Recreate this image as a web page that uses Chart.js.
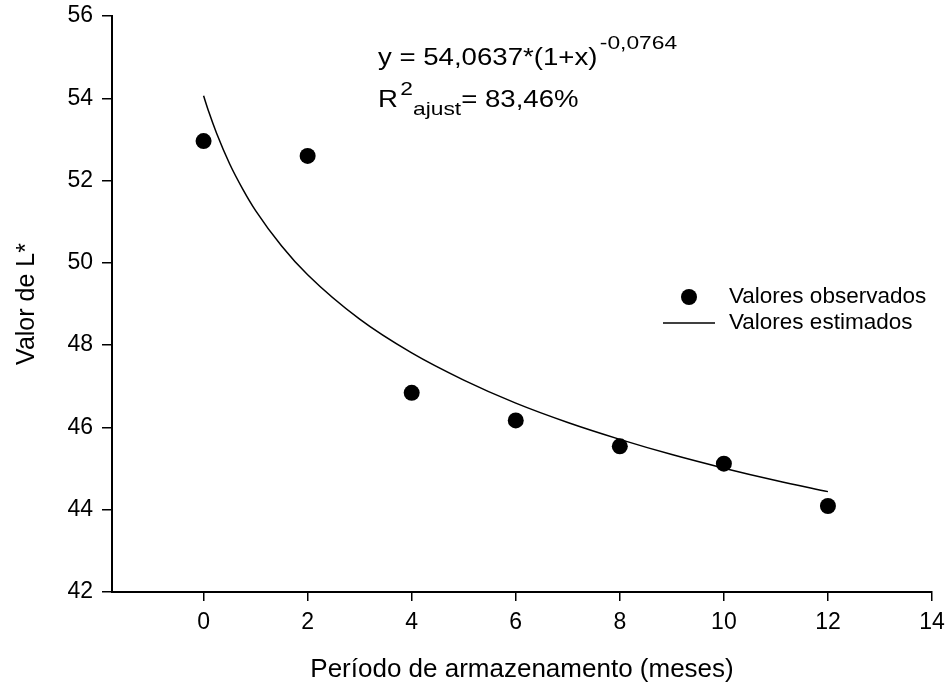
<!DOCTYPE html>
<html>
<head>
<meta charset="utf-8">
<script src="https://cdn.jsdelivr.net/npm/chart.js@4/dist/chart.umd.min.js"></script>
<style>
  html, body { margin: 0; padding: 0; background: #fff; }
  canvas { display: block; }
</style>
</head>
<body>
<canvas id="chart" width="947" height="689"></canvas>
<script>
// observed values (months, L*)
const obsX = [0, 2, 4, 6, 8, 10, 12]
const obsY = [52.96, 52.60, 46.84, 46.17, 45.54, 45.12, 44.09]

// fitted curve
const fitX = [0, 0.1, 0.25, 0.5, 0.75, 1, 1.5, 2, 3, 4, 5, 6, 7, 8, 9, 10, 11, 12]
const fitY = [54.06, 53.67, 53.15, 52.41, 51.80, 51.27, 50.41, 49.71, 48.63, 47.81, 47.15, 46.59, 46.12, 45.71, 45.34, 45.01, 44.71, 44.44]

const xTicks = [0, 2, 4, 6, 8, 10, 12, 14]
const yTicks = [42, 44, 46, 48, 50, 52, 54, 56]

const FONT = '"Liberation Sans", Arial, sans-serif'

const annotations = {
  id: 'annotations',
  afterDraw(chart) {
    const ctx = chart.ctx
    ctx.save()
    ctx.fillStyle = '#000'
    ctx.textBaseline = 'alphabetic'
    ctx.textAlign = 'left'

    // equation, slightly wide glyphs as in the reference
    ctx.save()
    ctx.translate(378, 0)
    ctx.scale(1.2, 1)
    let x = 0
    ctx.font = '23px ' + FONT
    const main = 'y = 54,0637*(1+x)'
    ctx.fillText(main, x, 65)
    x += ctx.measureText(main).width + 2
    ctx.font = '19px ' + FONT
    ctx.fillText('-0,0764', x, 49)

    x = 0
    ctx.font = '23px ' + FONT
    ctx.fillText('R', x, 107)
    x += ctx.measureText('R').width + 2
    ctx.font = '19px ' + FONT
    ctx.fillText('2', x, 95)
    x += ctx.measureText('2').width
    ctx.fillText('ajust', x, 115)
    x += ctx.measureText('ajust').width
    ctx.font = '23px ' + FONT
    ctx.fillText('= 83,46%', x, 107)
    ctx.restore()

    // legend
    ctx.beginPath()
    ctx.arc(689, 297, 8, 0, Math.PI * 2)
    ctx.fill()
    ctx.lineWidth = 1.5
    ctx.strokeStyle = '#000'
    ctx.beginPath()
    ctx.moveTo(663, 323)
    ctx.lineTo(715, 323)
    ctx.stroke()
    ctx.font = '22.5px ' + FONT
    ctx.textBaseline = 'middle'
    ctx.fillText('Valores observados', 729, 297)
    ctx.fillText('Valores estimados', 729, 323)
    ctx.restore()
  }
}

new Chart(document.getElementById('chart'), {
  type: 'scatter',
  data: {
    datasets: [
      {
        label: 'Valores observados',
        data: obsX.map((v, i) => ({ x: v, y: obsY[i] })),
        backgroundColor: '#000',
        borderWidth: 0,
        pointRadius: 8,
        showLine: false
      },
      {
        label: 'Valores estimados',
        data: fitX.map((v, i) => ({ x: v, y: fitY[i] })),
        borderColor: '#000',
        borderWidth: 1.5,
        pointRadius: 0,
        showLine: true,
        cubicInterpolationMode: 'monotone'
      }
    ]
  },
  options: {
    responsive: false,
    animation: false,
    devicePixelRatio: 1,
    layout: { padding: { top: 16, right: 15, left: 0, bottom: 0 } },
    plugins: { legend: { display: false }, tooltip: { enabled: false } },
    scales: {
      x: {
        type: 'linear',
        min: -1.76,
        max: 14,
        afterBuildTicks: s => { s.ticks = xTicks.map(v => ({ value: v })) },
        afterFit: s => { s.height = 97; s.paddingLeft = 0; s.paddingRight = 0 },
        grid: { drawOnChartArea: false, color: '#000', lineWidth: 1.5, tickLength: 9 },
        border: { color: '#000', width: 2 },
        ticks: { color: '#000', font: { family: FONT, size: 23 }, padding: 8, maxRotation: 0 },
        title: {
          display: true,
          text: 'Período de armazenamento (meses)',
          color: '#000',
          font: { family: FONT, size: 26 },
          padding: { top: 0, bottom: 4 }
        }
      },
      y: {
        min: 42,
        max: 56,
        afterBuildTicks: s => { s.ticks = yTicks.map(v => ({ value: v })) },
        afterFit: s => { s.width = 112; s.paddingTop = 0; s.paddingBottom = 0 },
        grid: { drawOnChartArea: false, color: '#000', lineWidth: 1.5, tickLength: 10 },
        border: { color: '#000', width: 2 },
        ticks: { color: '#000', font: { family: FONT, size: 23 }, padding: 9 },
        title: {
          display: true,
          text: 'Valor de L*',
          color: '#000',
          font: { family: FONT, size: 25 },
          padding: { top: 12, bottom: 0 }
        }
      }
    }
  },
  plugins: [annotations]
})
</script>
</body>
</html>
